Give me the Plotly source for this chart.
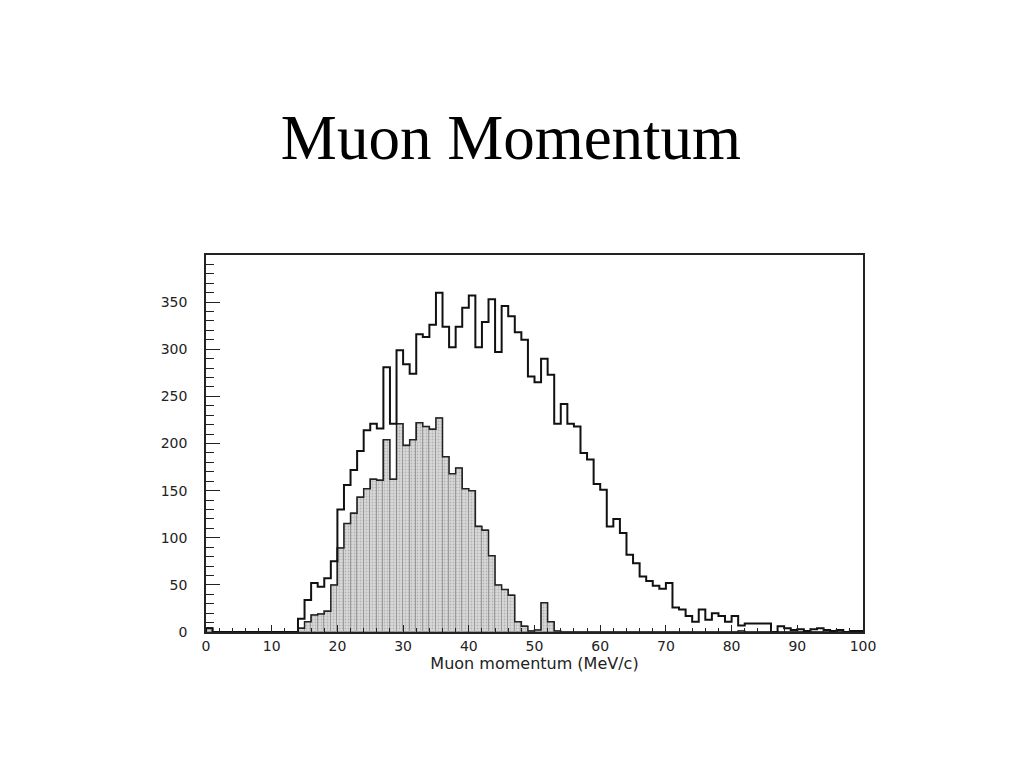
import numpy as np
import plotly.graph_objects as go

# Bin edges (1 MeV/c bins from 0 to 100)
bin_lo = 0
bin_hi = 100
bin_width = 1

# Counts per bin (bins 0..99), open histogram (all muons)
all_counts = [
    4, 0, 0, 0, 0, 0, 0, 0, 0, 0,
    0, 0, 0, 0, 14, 34, 52, 48, 57, 75,
    130, 156, 172, 192, 214, 221, 216, 281, 221, 299,
    284, 274, 316, 313, 326, 360, 324, 302, 324, 344,
    357, 302, 329, 353, 297, 346, 335, 318, 310, 271,
    265, 290, 273, 221, 242, 221, 218, 190, 183, 157,
    151, 112, 120, 105, 82, 73, 59, 54, 49, 46,
    52, 26, 24, 17, 11, 24, 13, 20, 17, 11,
    17, 7, 9, 9, 9, 9, 0, 6, 4, 2,
    3, 1, 3, 4, 2, 1, 2, 0, 1, 1,
]

# Counts per bin (bins 0..99), shaded histogram (selected muons)
sel_counts = [
    4, 0, 0, 0, 0, 0, 0, 0, 0, 0,
    0, 0, 0, 0, 4, 11, 18, 19, 22, 50,
    89, 115, 126, 143, 152, 162, 161, 204, 162, 221,
    198, 204, 222, 218, 215, 227, 186, 168, 174, 152,
    150, 112, 108, 81, 50, 45, 39, 11, 6, 1,
    2, 31, 11, 1, 0, 0, 0, 0, 0, 0,
    0, 0, 0, 0, 0, 0, 0, 0, 0, 0,
    0, 0, 0, 0, 0, 0, 0, 0, 0, 0,
    0, 1, 0, 0, 0, 0, 0, 0, 0, 0,
    0, 0, 0, 0, 0, 0, 0, 0, 0, 0,
]

y_tick_vals = [0, 50, 100, 150, 200, 250, 300, 350]
x_tick_vals = [0, 10, 20, 30, 40, 50, 60, 70, 80, 90, 100]

title_text = "Muon Momentum"
x_title = "Muon momentum (MeV/c)"

edges = np.arange(bin_lo, bin_hi + bin_width, bin_width)
centers = edges[:-1] + bin_width / 2


def step_xy(counts):
    xs = [edges[0]] + list(edges)
    ys = [0] + list(counts) + [0]
    return xs, ys


fig = go.Figure()

# shaded histogram fill
fig.add_trace(go.Bar(
    x=centers, y=sel_counts, width=bin_width,
    marker=dict(
        color="#d2d2d2",
        line=dict(width=1, color="#9a9a9a"),
        pattern=dict(shape=".", fgcolor="#8e8e8e", bgcolor="#dadada",
                     size=3, solidity=0.35),
    ),
    showlegend=False, hoverinfo="skip",
))

# shaded histogram outline
sx, sy = step_xy(sel_counts)
fig.add_trace(go.Scatter(
    x=sx, y=sy, mode="lines", line=dict(shape="hv", color="#222222", width=1.5),
    showlegend=False, hoverinfo="skip",
))

# open histogram outline
ax, ay = step_xy(all_counts)
fig.add_trace(go.Scatter(
    x=ax, y=ay, mode="lines", line=dict(shape="hv", color="#111111", width=2),
    showlegend=False, hoverinfo="skip",
))

tick_font = dict(family="DejaVu Sans", size=14, color="#222222")

fig.update_layout(
    width=1024, height=768,
    margin=dict(l=198, r=169, t=247, b=144),
    paper_bgcolor="white", plot_bgcolor="white",
    bargap=0,
    title=dict(
        text=title_text, x=503 / 1024, xref="container", xanchor="center",
        y=1 - 129 / 768, yref="container", yanchor="middle",
        font=dict(family="Liberation Serif", size=63, color="black"),
    ),
    xaxis=dict(
        range=[0, 100], tickvals=x_tick_vals, ticks="inside", ticklen=7,
        tickcolor="#222222", tickwidth=1,
        minor=dict(dtick=2, ticks="inside", ticklen=4, tickcolor="#222222"),
        showgrid=False, zeroline=False,
        showline=True, linecolor="#222222", linewidth=1.5, mirror=True,
        tickfont=tick_font, ticklabelstandoff=0,
        title=dict(text=x_title, font=dict(family="DejaVu Sans", size=16, color="#222222"),
                   standoff=0),
    ),
    yaxis=dict(
        range=[0, 400], tickvals=y_tick_vals, ticks="inside", ticklen=14,
        tickcolor="#222222", tickwidth=1,
        minor=dict(dtick=10, ticks="inside", ticklen=8, tickcolor="#222222"),
        showgrid=False, zeroline=False,
        showline=True, linecolor="#222222", linewidth=1.5, mirror=True,
        tickfont=tick_font, ticklabelstandoff=14,
    ),
)

fig.write_html("out.html")
